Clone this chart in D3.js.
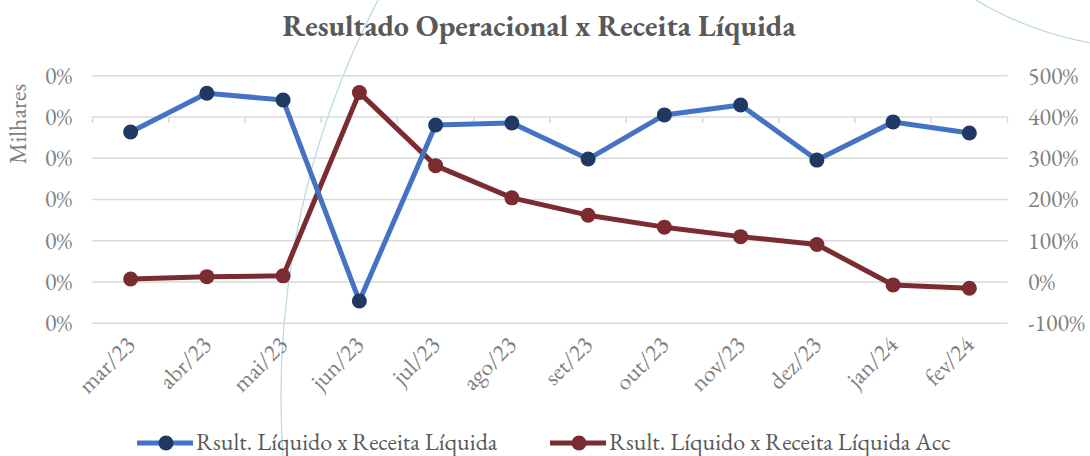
<!DOCTYPE html>
<html>
<head>
<meta charset="utf-8">
<script src="https://cdn.jsdelivr.net/npm/d3@7"></script>
<style>
  body { margin: 0; background: #fff; }
  svg { display: block; font-family: "EB Garamond", Garamond, "Liberation Serif", serif; }
</style>
</head>
<body>
<div id="chart"></div>
<script>
// data
const months = ['mar/23','abr/23','mai/23','jun/23','jul/23','ago/23','set/23','out/23','nov/23','dez/23','jan/24','fev/24'];
// left axis (shown in "Milhares", so every label reads 0%)
const resultMonthly = [-0.073, 0.115, 0.082, -0.892, -0.039, -0.029, -0.204, 0.010, 0.058, -0.209, -0.024, -0.078];
// right axis
const resultAcc = [0.074, 0.13, 0.15, 4.59, 2.82, 2.04, 1.62, 1.33, 1.10, 0.91, -0.07, -0.15];
const leftTicks = [-1, -0.8, -0.6, -0.4, -0.2, 0, 0.2];
const rightTicks = [-1, 0, 1, 2, 3, 4, 5];
const seriesNames = ['Rsult. Líquido x Receita Líquida', 'Rsult. Líquido x Receita Líquida Acc'];

const width = 1090, height = 456;
const margin = {top: 75.7, right: 82.5, bottom: 132.7, left: 92.5};
const fontSize = 24;

const colors = {
  blueLine: '#4472c4',
  blueDot: '#1f3864',
  red: '#7b2c30',
  grid: '#d9d9d9',
  tick: '#7f7f7f',
  title: '#595959',
  deco: '#b5d8e4'
};

// plain hyphen for negatives, like the source
const locale = d3.formatLocale({decimal: '.', thousands: ',', grouping: [3], currency: ['', ''], minus: '-'});
const pct = locale.format('.0%');

const svg = d3.select('#chart').append('svg')
  .attr('width', width)
  .attr('height', height);

// background decoration arcs
svg.append('path')
  .attr('d', 'M378,0 A860,860 0 0 0 283,456')
  .attr('fill', 'none')
  .attr('stroke', colors.deco)
  .attr('stroke-width', 1.2);
svg.append('path')
  .attr('d', 'M976,0 Q1025,30 1090,43')
  .attr('fill', 'none')
  .attr('stroke', colors.deco)
  .attr('stroke-width', 1.2);

const x = d3.scaleBand()
  .domain(months)
  .range([margin.left, width - margin.right]);

const yLeft = d3.scaleLinear()
  .domain([-1, 0.2])
  .range([height - margin.bottom, margin.top]);

const yRight = d3.scaleLinear()
  .domain([-1, 5])
  .range([height - margin.bottom, margin.top]);

// gridlines
svg.append('g')
  .selectAll('line')
  .data(rightTicks)
  .join('line')
  .attr('x1', margin.left)
  .attr('x2', width - margin.right)
  .attr('y1', d => yRight(d))
  .attr('y2', d => yRight(d))
  .attr('stroke', colors.grid)
  .attr('stroke-width', 1.5);

// category axis sits on the left-axis zero
const xAxis = svg.append('g')
  .attr('transform', `translate(0,${yLeft(0)})`);
xAxis.selectAll('line')
  .data(d3.range(months.length + 1))
  .join('line')
  .attr('x1', i => margin.left + i * x.bandwidth())
  .attr('x2', i => margin.left + i * x.bandwidth())
  .attr('y1', 0)
  .attr('y2', 6)
  .attr('stroke', colors.grid)
  .attr('stroke-width', 1.5);

// month labels
svg.append('g')
  .selectAll('text')
  .data(months)
  .join('text')
  .attr('transform', d => `translate(${x(d) + x.bandwidth() / 2 + 6},${346}) rotate(-45)`)
  .attr('text-anchor', 'end')
  .attr('fill', colors.tick)
  .attr('font-size', fontSize)
  .text(d => d);

// left tick labels
const fmtLeft = d => pct(d / 1000);
svg.append('g')
  .selectAll('text')
  .data(leftTicks)
  .join('text')
  .attr('x', 72)
  .attr('y', d => yLeft(d))
  .attr('dy', '0.33em')
  .attr('text-anchor', 'end')
  .attr('fill', colors.tick)
  .attr('font-size', fontSize)
  .text(fmtLeft);

// right tick labels
svg.append('g')
  .selectAll('text')
  .data(rightTicks)
  .join('text')
  .attr('x', 1028)
  .attr('y', d => yRight(d))
  .attr('dy', '0.33em')
  .attr('fill', colors.tick)
  .attr('font-size', fontSize)
  .text(d => pct(d));

// axis title
svg.append('text')
  .attr('transform', 'translate(26,124) rotate(-90)')
  .attr('text-anchor', 'middle')
  .attr('fill', colors.tick)
  .attr('font-size', fontSize)
  .text('Milhares');

// chart title
svg.append('text')
  .attr('x', 539)
  .attr('y', 36)
  .attr('text-anchor', 'middle')
  .attr('fill', colors.title)
  .attr('font-size', 30)
  .attr('font-weight', 'bold')
  .text('Resultado Operacional x Receita Líquida');

const cx = d => x(d) + x.bandwidth() / 2;

// accumulated series (right axis)
svg.append('path')
  .datum(resultAcc)
  .attr('fill', 'none')
  .attr('stroke', colors.red)
  .attr('stroke-width', 5)
  .attr('stroke-linejoin', 'round')
  .attr('d', d3.line().x((d, i) => cx(months[i])).y(d => yRight(d)));

svg.append('g')
  .selectAll('circle')
  .data(resultAcc)
  .join('circle')
  .attr('cx', (d, i) => cx(months[i]))
  .attr('cy', d => yRight(d))
  .attr('r', 7.5)
  .attr('fill', colors.red);

// monthly series (left axis)
svg.append('path')
  .datum(resultMonthly)
  .attr('fill', 'none')
  .attr('stroke', colors.blueLine)
  .attr('stroke-width', 5)
  .attr('stroke-linejoin', 'round')
  .attr('d', d3.line().x((d, i) => cx(months[i])).y(d => yLeft(d)));

svg.append('g')
  .selectAll('circle')
  .data(resultMonthly)
  .join('circle')
  .attr('cx', (d, i) => cx(months[i]))
  .attr('cy', d => yLeft(d))
  .attr('r', 7.5)
  .attr('fill', colors.blueDot);

// legend
const legend = [
  {name: seriesNames[0], line: colors.blueLine, dot: colors.blueDot, x0: 137},
  {name: seriesNames[1], line: colors.red, dot: colors.red, x0: 550}
];
const lg = svg.append('g')
  .selectAll('g')
  .data(legend)
  .join('g')
  .attr('transform', d => `translate(${d.x0},443)`);
lg.append('line')
  .attr('x1', 0).attr('x2', 56)
  .attr('stroke', d => d.line)
  .attr('stroke-width', 5);
lg.append('circle')
  .attr('cx', 29).attr('r', 7.5)
  .attr('fill', d => d.dot);
lg.append('text')
  .attr('x', 59)
  .attr('y', 7)
  .attr('fill', colors.title)
  .attr('font-size', fontSize)
  .text(d => d.name);
</script>
</body>
</html>
